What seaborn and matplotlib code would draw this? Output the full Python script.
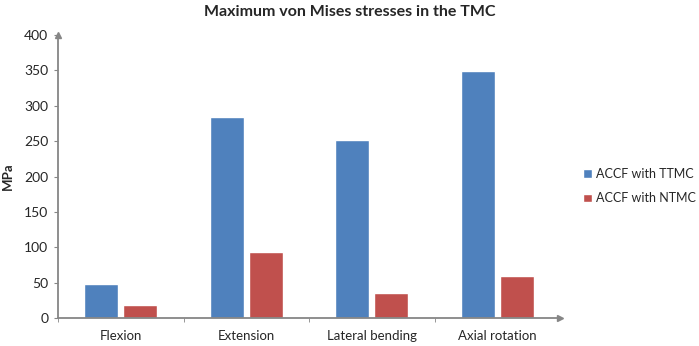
import matplotlib
matplotlib.use("Agg")
import matplotlib.pyplot as plt
import seaborn as sns
import pandas as pd

# chart data
categories = ["Flexion", "Extension", "Lateral bending", "Axial rotation"]
series_names = ["ACCF with TTMC", "ACCF with NTMC"]
ttmc_values = [48, 284, 251, 349]
ntmc_values = [18, 93, 35, 59]
y_ticks = [0, 50, 100, 150, 200, 250, 300, 350, 400]

df = pd.DataFrame({
    "Category": categories * 2,
    "Series": [series_names[0]] * len(categories) + [series_names[1]] * len(categories),
    "Value": ttmc_values + ntmc_values,
})

sns.set_style("white")
plt.rcParams["font.family"] = ["Lato", "DejaVu Sans"]

axis_color = "#868686"
palette = {series_names[0]: "#4F81BD", series_names[1]: "#C0504D"}

fig = plt.figure(figsize=(6.99, 3.46), dpi=100)
ax = fig.add_axes([58 / 699, 28 / 346, 502 / 699, 283 / 346])

sns.barplot(data=df, x="Category", y="Value", hue="Series", order=categories,
            hue_order=series_names, palette=palette, width=0.62, gap=0.13,
            saturation=1, errorbar=None, ax=ax)

ax.set_xlim(-0.5, 3.5)
ax.set_ylim(0, 400)
ax.set_yticks(y_ticks)
ax.set_xlabel("")
ax.set_ylabel("MPa", fontsize=9.5, fontweight="bold", labelpad=7)

# axes styling: gray spines with arrow heads, no top/right
for side in ["top", "right"]:
    ax.spines[side].set_visible(False)
for side in ["left", "bottom"]:
    ax.spines[side].set_color(axis_color)
    ax.spines[side].set_linewidth(1.3)
ax.plot(1, 0, ">", color=axis_color, markersize=5, transform=ax.transAxes, clip_on=False)
ax.plot(0, 1, "^", color=axis_color, markersize=5, transform=ax.transAxes, clip_on=False)

ax.tick_params(axis="y", direction="out", length=3, color=axis_color, labelsize=10,
               left=True, pad=4)
ax.tick_params(axis="x", which="major", length=0, labelsize=9.5, pad=9)
ax.set_xticks([-0.5, 0.5, 1.5, 2.5], minor=True)
ax.tick_params(axis="x", which="minor", direction="out", length=3, color=axis_color,
               bottom=True)

fig.suptitle("Maximum von Mises stresses in the TMC", fontsize=11.5, fontweight="bold",
             x=0.5, y=0.985)

handles, labels = ax.get_legend_handles_labels()
ax.legend_.remove()
fig.legend(handles, labels, loc="center left", bbox_to_anchor=(583 / 699, 1 - 186 / 346),
           frameon=False, fontsize=9.0, handlelength=0.7, handleheight=0.7,
           handletextpad=0.35, labelspacing=1.0, borderaxespad=0, borderpad=0)

fig.savefig("out.png", dpi=100, facecolor="white")
